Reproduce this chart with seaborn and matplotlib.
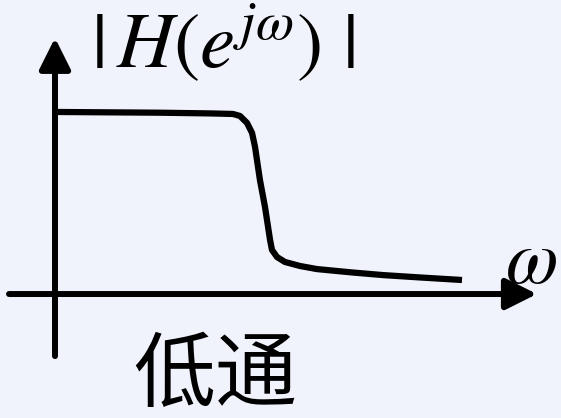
import matplotlib
matplotlib.use("Agg")
import matplotlib.pyplot as plt
import pandas as pd
import seaborn as sns

# Low-pass magnitude response |H(e^{jω})| sketched over 0..π
omega = [0.0, 0.40, 0.80, 1.20, 1.374, 1.428, 1.482, 1.521, 1.544, 1.582,
         1.621, 1.660, 1.675, 1.714, 1.775, 1.891, 2.022, 2.30, 2.532,
         2.817, 3.1416]
magnitude = [1.0, 0.998, 0.996, 0.992, 0.989, 0.978, 0.940, 0.885, 0.808,
             0.626, 0.478, 0.297, 0.242, 0.203, 0.176, 0.154, 0.137, 0.118,
             0.104, 0.091, 0.077]

y_label = r"$|\,H(e^{j\omega})\,\,|$"
x_label = r"$\omega$"
caption = "低通"

sns.set_theme(style="white")
plt.rcParams["font.family"] = ["Noto Sans CJK SC", "DejaVu Sans"]
plt.rcParams["mathtext.fontset"] = "stix"

bg = "#f0f3fb"
fig = plt.figure(figsize=(5.61, 4.18), dpi=100, facecolor=bg)
ax = fig.add_axes([0, 0, 1, 1])
ax.set_facecolor(bg)

df = pd.DataFrame({"omega": omega, "mag": magnitude})
sns.lineplot(data=df, x="omega", y="mag", ax=ax, color="black",
             linewidth=4.5, sort=False, solid_capstyle="butt",
             solid_joinstyle="round")

ax.set_xlim(-0.4245, 3.9057)
ax.set_ylim(-0.681, 1.615)

# Coordinate axes drawn as arrows through the origin
arrow = dict(arrowstyle="-|>,head_length=1.9,head_width=0.95",
             mutation_scale=10, lw=4.3, color="black",
             shrinkA=0, shrinkB=0)
ax.annotate("", xy=(0, 1.407), xytext=(0, -0.341), arrowprops=arrow)
ax.annotate("", xy=(3.720, 0), xytext=(-0.355, 0), arrowprops=arrow)

ax.text(0.28, 1.242, y_label, fontsize=57, ha="left", va="baseline",
        color="black")
ax.text(3.47, 0.060, x_label, fontsize=55, ha="left", va="baseline",
        color="black")
ax.text(1.235, -0.455, caption, fontsize=59, ha="center", va="center",
        color="black", family=["Noto Sans CJK SC", "DejaVu Sans"])

ax.set_axis_off()
fig.savefig("out.png", dpi=100, facecolor=bg)
